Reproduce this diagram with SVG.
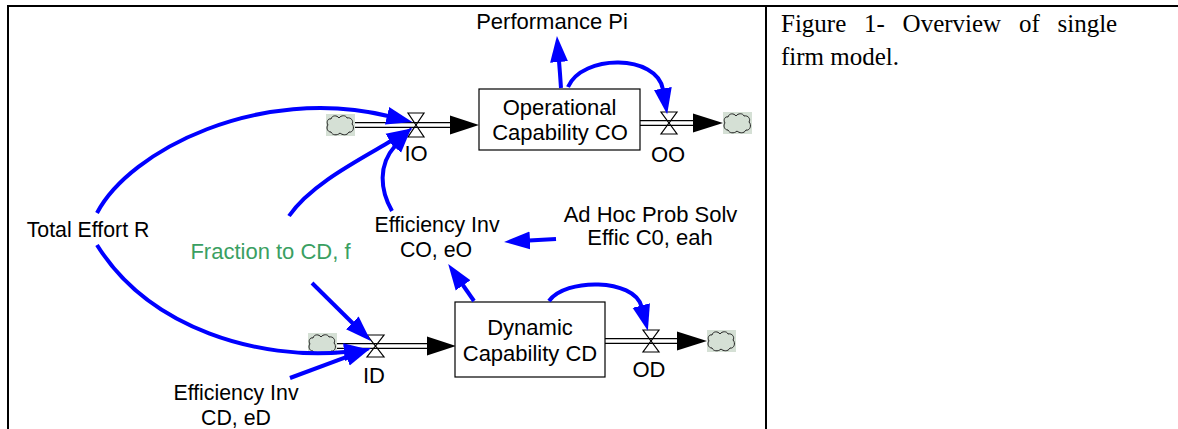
<svg xmlns="http://www.w3.org/2000/svg" xmlns:xlink="http://www.w3.org/1999/xlink" width="1178" height="429" viewBox="0 0 1178 429">
<style>
.lbl{font-family:"Liberation Sans",Arial,sans-serif;font-size:22px;fill:#000;text-anchor:middle}
.sm{font-size:21.3px}
.green{fill:#3a9f62}
.cap{font-family:"Liberation Serif","Times New Roman",serif;font-size:25px;fill:#000}
.frame{stroke:#000;stroke-width:2;fill:none}
.box{fill:#fff;stroke:#000;stroke-width:1.2}
.pipeO{stroke:#000;stroke-width:6;fill:none}
.pipeI{stroke:#fff;stroke-width:3.4;fill:none}
.valve{fill:none;stroke:#000;stroke-width:1.2;stroke-linejoin:miter}
.link{stroke:#0000ff;stroke-width:4;fill:none}
.flowhead{fill:#000}
</style>
<defs>
<marker id="ah" markerUnits="userSpaceOnUse" markerWidth="27" markerHeight="19" viewBox="0 0 27 19" refX="1" refY="9.5" orient="auto">
<path d="M0,0.5 L26,9.5 L0,18.5 z" fill="#0000ff"/>
</marker>
<g id="cloud">
<rect x="0" y="0" width="29" height="22" fill="#d5e0d5"/>
<path d="M5,5 C6,1 11,1 13,4 C15,1 20,1 21,4 C25,3 28,7 26,10 C29,13 27,19 23,18 C21,22 16,21 14,19 C11,22 6,21 5,18 C1,18 0,13 2,11 C0,8 2,4 5,5 Z" fill="#d5e0d5" stroke="#222" stroke-width="1"/>
</g>
</defs>
<g id="frame">
<line class="frame" x1="7" y1="6" x2="1178" y2="6"/>
<line class="frame" x1="8" y1="5" x2="8" y2="429"/>
<line class="frame" x1="766" y1="5" x2="766" y2="429"/>
</g>
<g id="caption">
<text class="cap" x="781" y="32" word-spacing="11.5">Figure 1- Overview of single</text>
<text class="cap" x="781" y="65">firm model.</text>
</g>
<g id="flows">
<path class="pipeO" d="M354,125 H452"/><path class="pipeI" d="M354,125 H452"/>
<polygon class="flowhead" points="450,115.5 479,125 450,134.5"/>
<path class="pipeO" d="M640,123 H695"/><path class="pipeI" d="M640,123 H695"/>
<polygon class="flowhead" points="693,113.5 723,123 693,132.5"/>
<path class="pipeO" d="M336,346 H429"/><path class="pipeI" d="M336,346 H429"/>
<polygon class="flowhead" points="427,336.5 456,346 427,355.5"/>
<path class="pipeO" d="M605,341 H679"/><path class="pipeI" d="M605,341 H679"/>
<polygon class="flowhead" points="677,331.5 707,341 677,350.5"/>
</g>
<g id="cloud-io"><use xlink:href="#cloud" href="#cloud" x="326" y="114"/></g>
<g id="cloud-oo"><use xlink:href="#cloud" href="#cloud" x="723" y="112"/></g>
<g id="cloud-id"><use xlink:href="#cloud" href="#cloud" x="308" y="333"/></g>
<g id="cloud-od"><use xlink:href="#cloud" href="#cloud" x="707" y="330"/></g>
<g id="valve-IO">
<path class="valve" d="M408,113 L424,113 L416,125 Z M408,137 L424,137 L416,125 Z"/>
<text class="lbl" x="416" y="161">IO</text>
</g>
<g id="valve-OO">
<path class="valve" d="M661,112 L677,112 L669,123 Z M661,134 L677,134 L669,123 Z"/>
<text class="lbl" x="668" y="162">OO</text>
</g>
<g id="valve-ID">
<path class="valve" d="M367,335 L384,335 L375.5,346 Z M367,357 L384,357 L375.5,346 Z"/>
<text class="lbl" x="374" y="383">ID</text>
</g>
<g id="valve-OD">
<path class="valve" d="M643,330 L659,330 L651,341 Z M643,352 L659,352 L651,341 Z"/>
<text class="lbl" x="649" y="377">OD</text>
</g>
<g id="stock-CO">
<rect class="box" x="479" y="89" width="161" height="61"/>
<text class="lbl" x="559.5" y="115">Operational</text>
<text class="lbl" x="560" y="140">Capability CO</text>
</g>
<g id="stock-CD">
<rect class="box" x="455" y="302" width="150" height="75"/>
<text class="lbl" x="530" y="335">Dynamic</text>
<text class="lbl" x="530" y="361">Capability CD</text>
</g>
<g id="performance"><text class="lbl" x="552" y="29">Performance Pi</text></g>
<g id="total-effort"><text class="lbl sm" x="88" y="237">Total Effort R</text></g>
<g id="fraction"><text class="lbl green" x="270.5" y="259">Fraction to CD, f</text></g>
<g id="eff-co">
<text class="lbl sm" x="437" y="232">Efficiency Inv</text>
<text class="lbl sm" x="436" y="257">CO, eO</text>
</g>
<g id="adhoc">
<text class="lbl" x="650.5" y="221.5">Ad Hoc Prob Solv</text>
<text class="lbl" x="650" y="245">Effic C0, eah</text>
</g>
<g id="eff-cd">
<text class="lbl sm" x="236" y="400">Efficiency Inv</text>
<text class="lbl sm" x="236" y="425">CD, eD</text>
</g>
<g id="connectors">
<path class="link" marker-end="url(#ah)" d="M97,213 C130,150 260,85 388,116"/>
<path class="link" marker-end="url(#ah)" d="M97,245 C150,330 260,360 345,352"/>
<path class="link" marker-end="url(#ah)" d="M289,216 C310,185 357,161 391,141"/>
<path class="link" marker-end="url(#ah)" d="M392,211 C380,190 378,165 395,146"/>
<path class="link" marker-end="url(#ah)" d="M556,239 L529,240.5"/>
<path class="link" marker-end="url(#ah)" d="M474,301 L462.5,284.5"/>
<path class="link" marker-end="url(#ah)" d="M549,301 C565,278 634,278 641.5,306.5"/>
<path class="link" marker-end="url(#ah)" d="M568,87 C582,54 657,54 663,89.5"/>
<path class="link" marker-end="url(#ah)" d="M561,88 Q560,73 559,61"/>
<path class="link" marker-end="url(#ah)" d="M312,283 L353,323.5"/>
<path class="link" marker-end="url(#ah)" d="M290,378 L347.5,356.7"/>
</g>
</svg>
